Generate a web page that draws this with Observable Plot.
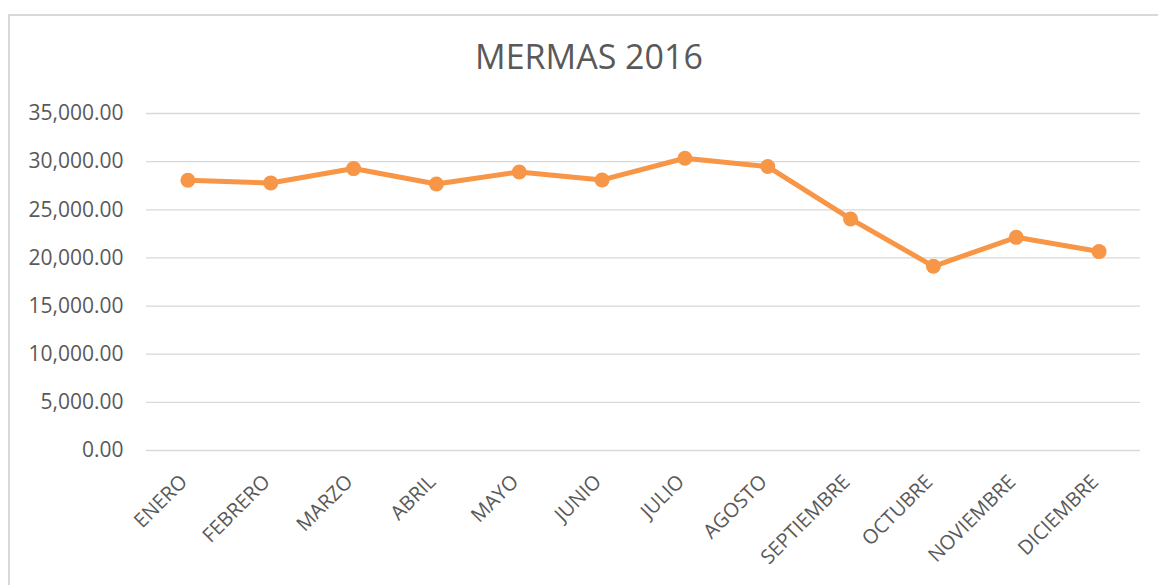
<!DOCTYPE html>
<html>
<head>
<meta charset="utf-8">
<script src="https://cdn.jsdelivr.net/npm/d3@7"></script>
<script src="https://cdn.jsdelivr.net/npm/@observablehq/plot@0.6"></script>
<style>
  html, body { margin: 0; padding: 0; background: #fff; width: 1158px; height: 585px; overflow: hidden; }
  #frame { position: absolute; left: 8px; top: 14px; width: 1160px; height: 600px;
           border-left: 2px solid #d9d9d9; border-top: 2px solid #d9d9d9; box-sizing: border-box; }
  #title { position: absolute; left: 0; width: 1178px; top: 33px; text-align: center;
           font-family: "Open Sans", sans-serif; font-size: 34px; color: #595959; line-height: 46px; }
  #chart { position: absolute; left: 0; top: 90px; }
</style>
</head>
<body>
<div id="frame"></div>
<div id="title">MERMAS 2016</div>
<div id="chart"></div>
<script>
const months = ["ENERO", "FEBRERO", "MARZO", "ABRIL", "MAYO", "JUNIO", "JULIO", "AGOSTO", "SEPTIEMBRE", "OCTUBRE", "NOVIEMBRE", "DICIEMBRE"];
const mermas = [28070, 27790, 29280, 27680, 28930, 28100, 30350, 29490, 24050, 19130, 22140, 20660];
const yTicks = [0, 5000, 10000, 15000, 20000, 25000, 30000, 35000];

const data = months.map((m, i) => ({month: m, value: mermas[i]}));

const chart = Plot.plot({
  width: 1158,
  height: 495,
  marginLeft: 146,
  marginRight: 18,
  marginTop: 23,
  marginBottom: 135,
  style: {fontFamily: "Open Sans", color: "#595959", background: "transparent", overflow: "visible"},
  x: {type: "point", domain: months, padding: 0.5, round: false, label: null},
  y: {domain: [0, 35000], label: null},
  marks: [
    Plot.gridY(yTicks, {stroke: "#d9d9d9", strokeOpacity: 1, strokeWidth: 1.3}),
    Plot.axisY(yTicks, {tickSize: 0, tickPadding: 23, tickFormat: d3.format(",.2f"), fontSize: 21, label: null, fill: "#595959"}),
    Plot.axisX({tickSize: 0, tickRotate: -45, tickPadding: 28, dx: -4, fontSize: 20, label: null, fill: "#595959"}),
    Plot.line(data, {x: "month", y: "value", stroke: "#F79646", strokeWidth: 5}),
    Plot.dot(data, {x: "month", y: "value", r: 7.5, fill: "#F79646"})
  ]
});
document.getElementById("chart").appendChild(chart);
</script>
</body>
</html>
